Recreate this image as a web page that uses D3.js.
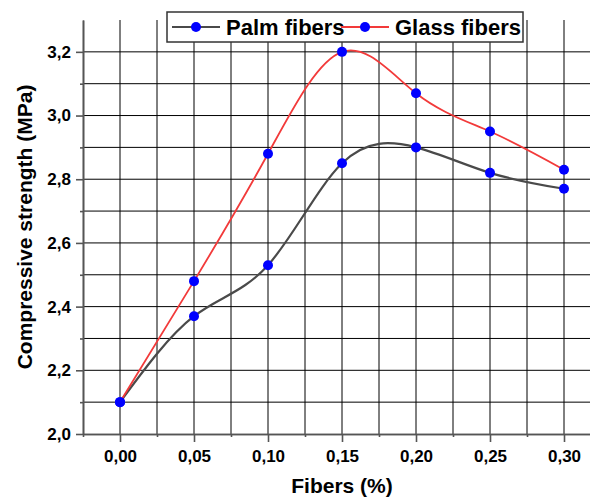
<!DOCTYPE html>
<html>
<head>
<meta charset="utf-8">
<title>Compressive strength vs fibers</title>
<script src="https://d3js.org/d3.v7.min.js"></script>
<style>
    body {
        margin: 0;
        background: white;
    }
    svg {
        display: block;
        font-family: "Liberation Sans", Arial, sans-serif;
    }
    .grid line {
        stroke: #000;
        stroke-width: 1;
    }
    .axis path,
    .axis line {
        stroke: #555;
        stroke-width: 1.6;
    }
    .axis text {
        font-size: 17px;
        font-weight: bold;
        fill: #000;
    }
    .title {
        font-size: 21px;
        font-weight: bold;
        fill: #000;
    }
</style>
</head>
<body>
<svg id="chart" width="590" height="501"></svg>
<script>
// values
var fibers = [0.00, 0.05, 0.10, 0.15, 0.20, 0.25, 0.30];
var palmStrength = [2.10, 2.37, 2.53, 2.85, 2.90, 2.82, 2.77];
var glassStrength = [2.10, 2.48, 2.88, 3.20, 3.07, 2.95, 2.83];

var xTicks = [0.00, 0.05, 0.10, 0.15, 0.20, 0.25, 0.30];
var xMinorTicks = [-0.025, 0.025, 0.075, 0.125, 0.175, 0.225, 0.275];
var yTicks = [2.0, 2.2, 2.4, 2.6, 2.8, 3.0, 3.2];
var yMinorTicks = [2.1, 2.3, 2.5, 2.7, 2.9, 3.1];

var seriesNames = ["Palm fibers", "Glass fibers"];
var seriesColors = ["#4a4a4a", "#f23a3a"];

var svg = d3.select("#chart");

var x = d3.scaleLinear().domain([-0.025, 0.325]).range([83, 601]);
var y = d3.scaleLinear().domain([2.0, 3.3]).range([434, 20]);

function comma(fmt) {
    return function(d) { return d3.format(fmt)(d).replace(".", ","); };
}

// grid
var grid = svg.append("g").attr("class", "grid");
grid.selectAll("line.v")
    .data(xTicks.concat(xMinorTicks.slice(1)))
    .enter().append("line")
    .attr("class", "v")
    .attr("x1", function(d) { return x(d); })
    .attr("x2", function(d) { return x(d); })
    .attr("y1", y(2.0))
    .attr("y2", y(3.3));
grid.selectAll("line.h")
    .data(yTicks.slice(1).concat(yMinorTicks))
    .enter().append("line")
    .attr("class", "h")
    .attr("x1", x(-0.025))
    .attr("x2", x(0.325))
    .attr("y1", function(d) { return y(d); })
    .attr("y2", function(d) { return y(d); });

// axes
svg.append("g")
    .attr("class", "axis")
    .attr("transform", "translate(0," + y(2.0) + ")")
    .call(d3.axisBottom(x).tickValues(xMinorTicks).tickSize(3).tickFormat("").tickSizeOuter(0));
svg.append("g")
    .attr("class", "axis")
    .attr("transform", "translate(0," + y(2.0) + ")")
    .call(d3.axisBottom(x).tickValues(xTicks).tickSize(8).tickPadding(8).tickFormat(comma(".2f")).tickSizeOuter(0));

svg.append("g")
    .attr("class", "axis")
    .attr("transform", "translate(" + x(-0.025) + ",0)")
    .call(d3.axisLeft(y).tickValues(yMinorTicks).tickSize(3).tickFormat("").tickSizeOuter(0));
svg.append("g")
    .attr("class", "axis")
    .attr("transform", "translate(" + x(-0.025) + ",0)")
    .call(d3.axisLeft(y).tickValues(yTicks).tickSize(7).tickPadding(5).tickFormat(comma(".1f")).tickSizeOuter(0));

// curves
var line = d3.line()
    .x(function(d) { return x(d[0]); })
    .y(function(d) { return y(d[1]); })
    .curve(d3.curveNatural);

var series = [palmStrength, glassStrength];
series.forEach(function(vals, i) {
    svg.append("path")
        .datum(fibers.map(function(f, j) { return [f, vals[j]]; }))
        .attr("fill", "none")
        .attr("stroke", seriesColors[i])
        .attr("stroke-width", i == 0 ? 2.2 : 1.8)
        .attr("d", line);
});
series.forEach(function(vals) {
    svg.append("g").selectAll("circle")
        .data(fibers.map(function(f, j) { return [f, vals[j]]; }))
        .enter().append("circle")
        .attr("cx", function(d) { return x(d[0]); })
        .attr("cy", function(d) { return y(d[1]); })
        .attr("r", 5)
        .attr("fill", "#0000ff");
});

// axis titles
svg.append("text")
    .attr("class", "title")
    .attr("x", 342)
    .attr("y", 493)
    .attr("text-anchor", "middle")
    .text("Fibers (%)");
svg.append("text")
    .attr("class", "title")
    .attr("transform", "translate(32,227) rotate(-90)")
    .attr("text-anchor", "middle")
    .text("Compressive strength (MPa)");

// legend
var legend = svg.append("g");
legend.append("rect")
    .attr("x", 167).attr("y", 12)
    .attr("width", 356).attr("height", 30)
    .attr("fill", "white")
    .attr("stroke", "#333")
    .attr("stroke-width", 1.5);
var legendX = [172, 341];
seriesNames.forEach(function(name, i) {
    var lx = legendX[i];
    legend.append("line")
        .attr("x1", lx).attr("x2", lx + 48)
        .attr("y1", 27).attr("y2", 27)
        .attr("stroke", seriesColors[i])
        .attr("stroke-width", 2);
    legend.append("circle")
        .attr("cx", lx + 24).attr("cy", 27).attr("r", 5)
        .attr("fill", "#0000ff");
    legend.append("text")
        .attr("class", "title")
        .attr("x", lx + 54)
        .attr("y", 34.5)
        .style("font-size", "22px")
        .text(name);
});
</script>
</body>
</html>
